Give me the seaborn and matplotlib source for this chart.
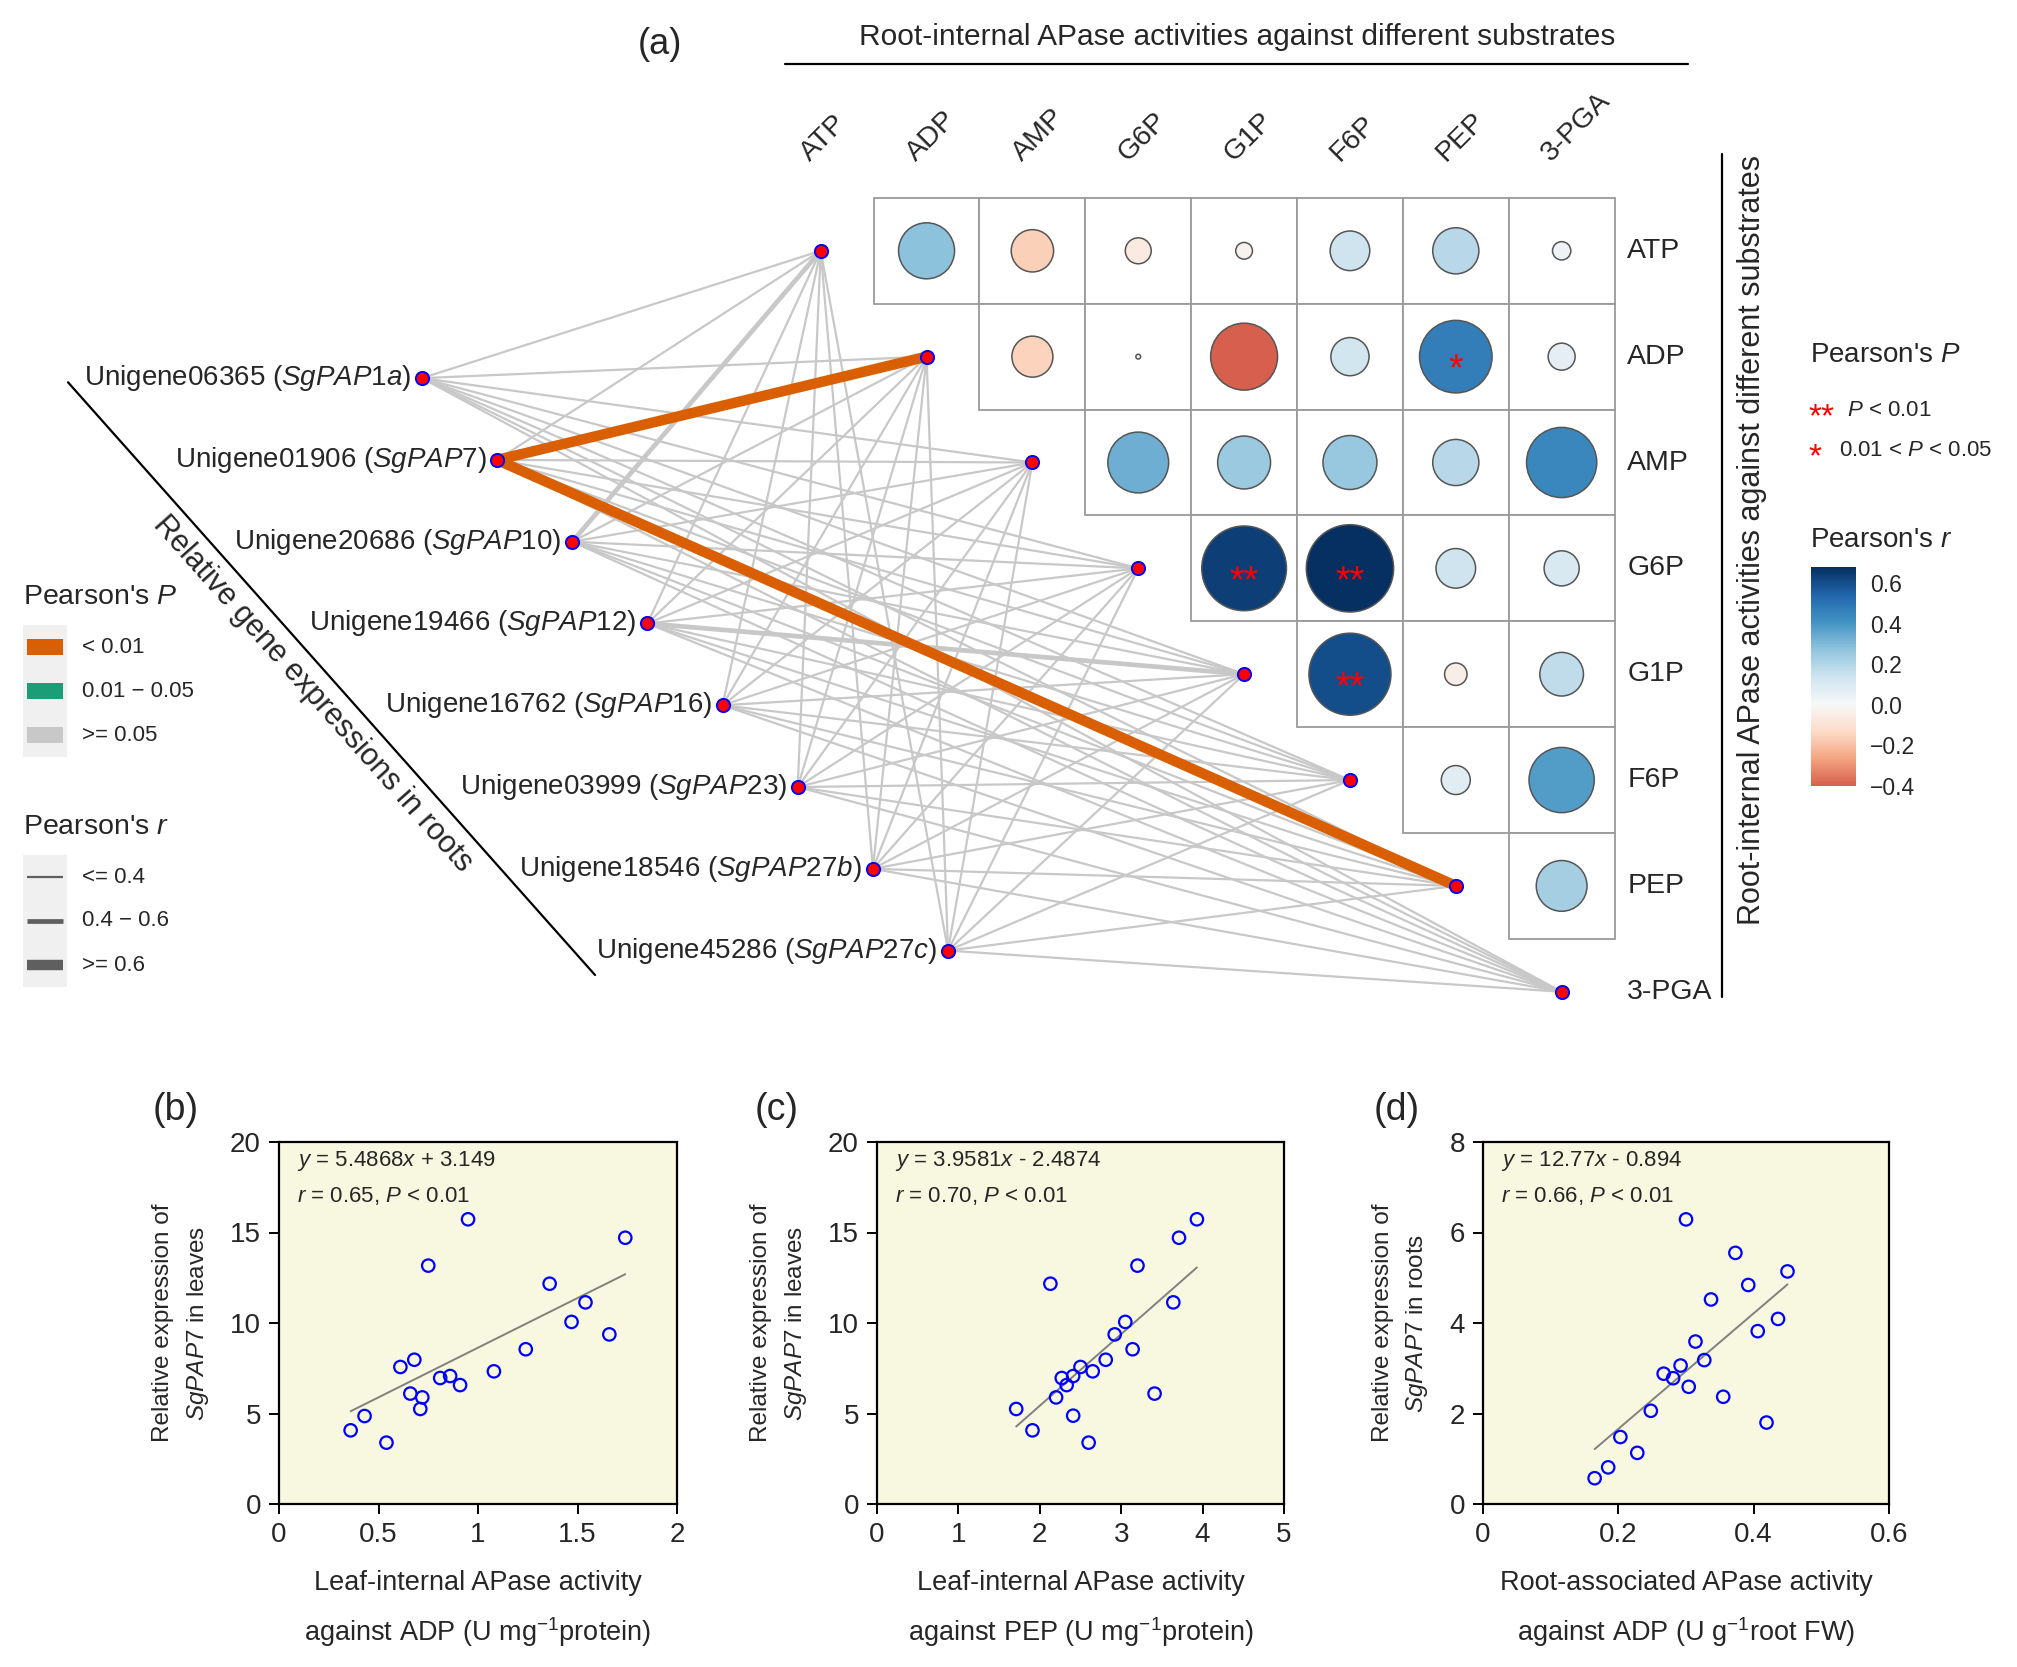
import matplotlib
matplotlib.use("Agg")
import matplotlib.pyplot as plt
import numpy as np
import seaborn as sns
from matplotlib.colors import ListedColormap, TwoSlopeNorm, Normalize
from matplotlib.patches import Rectangle, Circle
from matplotlib.lines import Line2D
from matplotlib.collections import LineCollection
from matplotlib.cm import ScalarMappable

# ---------------- data ----------------
SUBSTRATES = ["ATP", "ADP", "AMP", "G6P", "G1P", "F6P", "PEP", "3-PGA"]
GENE_IDS = ["Unigene06365", "Unigene01906", "Unigene20686", "Unigene19466",
            "Unigene16762", "Unigene03999", "Unigene18546", "Unigene45286"]
GENE_NAMES = ["SgPAP1a", "SgPAP7", "SgPAP10", "SgPAP12",
              "SgPAP16", "SgPAP23", "SgPAP27b", "SgPAP27c"]

# substrate x substrate Pearson's r, upper triangle (row i vs columns i+1 ..)
SUB_R = [
    [0.28, -0.16, -0.06, -0.025, 0.14, 0.19, 0.03],
    [-0.15, 0.002, -0.40, 0.13, 0.47, 0.065],
    [0.33, 0.25, 0.26, 0.19, 0.44],
    [0.64, 0.68, 0.14, 0.11],
    [0.60, -0.045, 0.17],
    [0.075, 0.38],
    [0.23],
]
SUB_SIG = [
    ["", "", "", "", "", "", ""],
    ["", "", "", "", "*", ""],
    ["", "", "", "", ""],
    ["**", "**", "", ""],
    ["**", "", ""],
    ["", ""],
    [""],
]

# gene -> substrate links (columns follow SUBSTRATES)
# P class: 0 = < 0.01, 1 = 0.01 - 0.05, 2 = >= 0.05
LINK_P = [
    [2, 2, 2, 2, 2, 2, 2, 2],
    [2, 0, 2, 2, 2, 2, 0, 2],
    [2, 2, 2, 2, 2, 2, 2, 2],
    [2, 2, 2, 2, 2, 2, 2, 2],
    [2, 2, 2, 2, 2, 2, 2, 2],
    [2, 2, 2, 2, 2, 2, 2, 2],
    [2, 2, 2, 2, 2, 2, 2, 2],
    [2, 2, 2, 2, 2, 2, 2, 2],
]
# r class: 0 = <= 0.4, 1 = 0.4 - 0.6, 2 = >= 0.6
LINK_R = [
    [0, 0, 0, 0, 0, 0, 0, 0],
    [0, 2, 0, 0, 0, 0, 2, 0],
    [1, 0, 0, 0, 0, 0, 0, 0],
    [0, 0, 0, 0, 1, 0, 0, 0],
    [0, 0, 0, 0, 0, 0, 0, 0],
    [0, 0, 0, 0, 0, 0, 0, 0],
    [0, 0, 0, 0, 0, 0, 0, 0],
    [0, 0, 0, 0, 0, 0, 0, 0],
]
P_LABELS = ["< 0.01", "0.01 \u2212 0.05", ">= 0.05"]
R_LABELS = ["<= 0.4", "0.4 \u2212 0.6", ">= 0.6"]

# scatter panels
B_X = [0.36, 0.43, 0.54, 0.61, 0.68, 0.66, 0.72, 0.71, 0.75, 0.81,
       0.86, 0.91, 0.95, 1.08, 1.24, 1.36, 1.47, 1.54, 1.66, 1.74]
B_Y = [4.07, 4.86, 3.39, 7.57, 7.97, 6.10, 5.89, 5.25, 13.17, 6.96,
       7.07, 6.57, 15.73, 7.33, 8.55, 12.17, 10.06, 11.14, 9.37, 14.71]
C_X = [1.71, 1.91, 2.13, 2.20, 2.27, 2.33, 2.41, 2.41, 2.50, 2.60,
       2.65, 2.81, 2.92, 3.05, 3.14, 3.20, 3.41, 3.64, 3.71, 3.93]
C_Y = [5.25, 4.07, 12.17, 5.89, 6.96, 6.57, 7.07, 4.88, 7.57, 3.39,
       7.33, 7.97, 9.37, 10.06, 8.55, 13.17, 6.10, 11.14, 14.71, 15.73]
D_X = [0.165, 0.185, 0.203, 0.228, 0.248, 0.267, 0.281, 0.292, 0.300, 0.304,
       0.314, 0.327, 0.337, 0.355, 0.373, 0.392, 0.406, 0.419, 0.436, 0.450]
D_Y = [0.57, 0.81, 1.48, 1.13, 2.06, 2.88, 2.78, 3.06, 6.29, 2.59,
       3.59, 3.18, 4.52, 2.37, 5.55, 4.84, 3.82, 1.80, 4.09, 5.14]
FIT_SLOPES = [5.4868, 3.9581, 12.77]
FIT_INTERCEPTS = [3.149, -2.4874, -0.894]
FIT_TEXT = ["$\\it{y}$ = 5.4868$\\it{x}$ + 3.149",
            "$\\it{y}$ = 3.9581$\\it{x}$ - 2.4874",
            "$\\it{y}$ = 12.77$\\it{x}$ - 0.894"]
STAT_TEXT = ["$\\it{r}$ = 0.65, $\\it{P}$ < 0.01",
             "$\\it{r}$ = 0.70, $\\it{P}$ < 0.01",
             "$\\it{r}$ = 0.66, $\\it{P}$ < 0.01"]
X_LABELS = ["Leaf-internal APase activity\nagainst ADP (U mg$^{-1}$protein)",
            "Leaf-internal APase activity\nagainst PEP (U mg$^{-1}$protein)",
            "Root-associated APase activity\nagainst ADP (U g$^{-1}$root FW)"]
Y_LABELS = ["Relative expression of\n$\\it{SgPAP7}$ in leaves",
            "Relative expression of\n$\\it{SgPAP7}$ in leaves",
            "Relative expression of\n$\\it{SgPAP7}$ in roots"]
X_TICKS = [[0, 0.5, 1, 1.5, 2], [0, 1, 2, 3, 4, 5], [0, 0.2, 0.4, 0.6]]
X_TICKLABELS = [["0", "0.5", "1", "1.5", "2"], ["0", "1", "2", "3", "4", "5"],
                ["0", "0.2", "0.4", "0.6"]]
Y_TICKS = [[0, 5, 10, 15, 20], [0, 5, 10, 15, 20], [0, 2, 4, 6, 8]]
PANEL_TAGS = ["(b)", "(c)", "(d)"]

# ---------------- style ----------------
sns.set_style("ticks")
plt.rcParams["font.family"] = ["Liberation Sans", "DejaVu Sans"]
plt.rcParams["mathtext.fontset"] = "custom"
plt.rcParams["mathtext.rm"] = "Liberation Sans"
plt.rcParams["mathtext.it"] = "Liberation Sans:italic"
plt.rcParams["mathtext.bf"] = "Liberation Sans:bold"

W, H = 2017, 1667
fig = plt.figure(figsize=(W / 100, H / 100), dpi=100)


def fx(px):
    return px / W


def fy(py):
    return 1 - py / H


P_COLORS = ["#d95f02", "#1b9e77", "#c8c8c8"]
R_WIDTHS = [1.6, 3.4, 7.5]

# diverging palette, white at r = 0, linear between -0.4 and 0.68
R_MIN, R_MAX = -0.4, 0.68
lower = plt.cm.RdBu(np.linspace(0.2, 0.5, 128))
upper = plt.cm.RdBu(np.linspace(0.5, 1.0, 128))
two = ListedColormap(np.vstack([lower, upper]))
two_norm = TwoSlopeNorm(vmin=R_MIN, vcenter=0.0, vmax=R_MAX)
cmap = ListedColormap(two(two_norm(np.linspace(R_MIN, R_MAX, 512))))
norm = Normalize(vmin=R_MIN, vmax=R_MAX)

# ---------------- panel (a) ----------------
U = 105.85            # pixels per matrix cell
X0, Y0 = 820.7, 250.8  # pixel position of the ATP node
TOP_H = 1030
axA = fig.add_axes([0, fy(TOP_H), 1, TOP_H / H])

n = len(SUBSTRATES)
gx = -3.767 + 0.710 * np.arange(len(GENE_IDS))
gy = 1.203 + 0.7726 * np.arange(len(GENE_IDS))

# links
segs, cols, lws, zs = [], [], [], []
for i in range(len(GENE_IDS)):
    for k in range(n):
        segs.append([(gx[i], gy[i]), (k, k)])
        cols.append(P_COLORS[LINK_P[i][k]])
        lws.append(R_WIDTHS[LINK_R[i][k]])
        zs.append(LINK_P[i][k])
order = np.argsort(zs)[::-1]
lc = LineCollection([segs[o] for o in order], colors=[cols[o] for o in order],
                    linewidths=[lws[o] for o in order], zorder=2, capstyle="butt")
axA.add_collection(lc)

# correlation matrix cells
for i, row in enumerate(SUB_R):
    for jj, r in enumerate(row):
        j = i + 1 + jj
        axA.add_patch(Rectangle((j - 0.5, i - 0.5), 1, 1, facecolor="white",
                                edgecolor="#9a9a9a", lw=1.3, zorder=3))
        axA.add_patch(Circle((j, i), np.sqrt(abs(r)) / 2, facecolor=cmap(norm(r)),
                             edgecolor="#555555", lw=1.1, zorder=4))
        if SUB_SIG[i][jj]:
            axA.text(j, i + 0.13, SUB_SIG[i][jj], color="red", fontsize=27,
                     ha="center", va="center", zorder=5)

# nodes
sns.scatterplot(x=gx, y=gy, ax=axA, s=90, color="red", edgecolor="blue",
                linewidth=1.4, zorder=6, legend=False)
sns.scatterplot(x=np.arange(n), y=np.arange(n), ax=axA, s=90, color="red",
                edgecolor="blue", linewidth=1.4, zorder=6, legend=False)
axA.set_xlim(-X0 / U, (W - X0) / U)
axA.set_ylim((TOP_H - Y0) / U, -Y0 / U)
axA.axis("off")

for i in range(len(GENE_IDS)):
    axA.text(gx[i] - 0.1, gy[i], f"{GENE_IDS[i]} ($\\it{{{GENE_NAMES[i]}}}$)",
             ha="right", va="center", fontsize=20)

for k, s in enumerate(SUBSTRATES):
    axA.text(k - 0.06, -0.80, s, rotation=45, rotation_mode="anchor",
             ha="left", va="bottom", fontsize=20.5)
    axA.text(7.62, k, s, ha="left", va="center", fontsize=20.5)

axA.text(3.937, -2.02, "Root-internal APase activities against different substrates",
         ha="center", va="center", fontsize=21.5)
axA.plot([-0.34, 8.19], [-1.762, -1.762], color="black", lw=1.6)
axA.text(-1.52, -1.95, "(a)", ha="center", va="center", fontsize=26)

axA.plot([-7.111, -2.132], [1.242, 6.842], color="black", lw=1.6)
axA.text(-4.80, 4.19, "Relative gene expressions in roots", rotation=-48.4,
         rotation_mode="anchor", ha="center", va="center", fontsize=22)

axA.plot([8.518, 8.518], [-0.911, 7.049], color="black", lw=1.6)
axA.text(8.80, 2.733, "Root-internal APase activities against different substrates",
         rotation=90, ha="center", va="center", fontsize=22)

# left legend
fig.text(fx(23), fy(597), "Pearson's $\\it{P}$", fontsize=20.5, va="center")
fig.add_artist(Rectangle((fx(23), fy(757)), fx(44), 132 / H, transform=fig.transFigure,
                         facecolor="#f0f0f0", edgecolor="none"))
for m, (c, lab) in enumerate(zip(P_COLORS, P_LABELS)):
    yc = 647 + 44 * m
    fig.add_artist(Rectangle((fx(27), fy(yc + 8)), fx(36), 16 / H,
                             transform=fig.transFigure, facecolor=c, edgecolor="none"))
    fig.text(fx(82), fy(yc), lab, fontsize=16, va="center")

fig.text(fx(23), fy(827), "Pearson's $\\it{r}$", fontsize=20.5, va="center")
fig.add_artist(Rectangle((fx(23), fy(987)), fx(44), 132 / H, transform=fig.transFigure,
                         facecolor="#f0f0f0", edgecolor="none"))
for m, (lw, lab) in enumerate(zip(R_WIDTHS, R_LABELS)):
    yc = 877 + 44 * m
    fig.add_artist(Line2D([fx(27), fx(63)], [fy(yc), fy(yc)], transform=fig.transFigure,
                          lw=lw, color="#5f5f5f", solid_capstyle="butt"))
    fig.text(fx(82), fy(yc), lab, fontsize=16, va="center")

# right legend
fig.text(fx(1810), fy(355), "Pearson's $\\it{P}$", fontsize=20, va="center")
fig.text(fx(1808), fy(418), "**", fontsize=24, color="red", va="center")
fig.text(fx(1847), fy(410), "$\\it{P}$ < 0.01", fontsize=16, va="center")
fig.text(fx(1808), fy(458), "*", fontsize=24, color="red", va="center")
fig.text(fx(1839), fy(450), "0.01 < $\\it{P}$ < 0.05", fontsize=16, va="center")
fig.text(fx(1810), fy(540), "Pearson's $\\it{r}$", fontsize=20, va="center")
cax = fig.add_axes([fx(1811), fy(786), fx(45), 219 / H])
cb = fig.colorbar(ScalarMappable(norm=norm, cmap=cmap), cax=cax,
                  ticks=[-0.4, -0.2, 0.0, 0.2, 0.4, 0.6])
cb.outline.set_visible(False)
cb.ax.set_yticklabels(["\u22120.4", "\u22120.2", "0.0", "0.2", "0.4", "0.6"])
cb.ax.tick_params(direction="in", color="white", length=7, width=1.2,
                  left=True, right=True, labelsize=16.5, pad=10)
cb.ax.yaxis.set_tick_params(which="minor", left=False, right=False)

# ---------------- panels (b)-(d) ----------------
LEFTS = [279, 877, 1483]
RIGHTS = [677, 1284, 1889]
TOP, BOTTOM = 1142, 1504
XS = [B_X, C_X, D_X]
YS = [B_Y, C_Y, D_Y]
XLIMS = [(0, 2), (0, 5), (0, 0.6)]
YLIMS = [(0, 20), (0, 20), (0, 8)]

for p in range(3):
    ax = fig.add_axes([fx(LEFTS[p]), fy(BOTTOM), (RIGHTS[p] - LEFTS[p]) / W,
                       (BOTTOM - TOP) / H])
    ax.set_facecolor("#f8f8e0")
    sns.scatterplot(x=XS[p], y=YS[p], ax=ax, s=80, facecolors="none",
                    edgecolor="blue", linewidth=1.6, zorder=3, legend=False)
    xx = np.array([min(XS[p]), max(XS[p])])
    ax.plot(xx, FIT_SLOPES[p] * xx + FIT_INTERCEPTS[p], color="#808080", lw=1.4,
            zorder=2)
    ax.set_xlim(*XLIMS[p])
    ax.set_ylim(*YLIMS[p])
    ax.set_xticks(X_TICKS[p])
    ax.set_xticklabels(X_TICKLABELS[p])
    ax.set_yticks(Y_TICKS[p])
    ax.tick_params(direction="out", length=7, width=1.4, labelsize=20, pad=6,
                   color="black")
    for sp in ax.spines.values():
        sp.set_visible(True)
        sp.set_linewidth(1.6)
        sp.set_color("black")
    ax.set_xlabel(X_LABELS[p], fontsize=19.5, linespacing=1.75, labelpad=16)
    ax.set_ylabel(Y_LABELS[p], fontsize=17.5, linespacing=1.55, labelpad=14)
    ax.text(0.045, 0.948, FIT_TEXT[p], transform=ax.transAxes, fontsize=16,
            va="center", ha="left")
    ax.text(0.045, 0.852, STAT_TEXT[p], transform=ax.transAxes, fontsize=16,
            va="center", ha="left")

for tag, px in zip(PANEL_TAGS, [176, 777, 1397]):
    fig.text(fx(px), fy(1110), tag, fontsize=27, ha="center", va="center")

fig.savefig("out.png", dpi=100)
